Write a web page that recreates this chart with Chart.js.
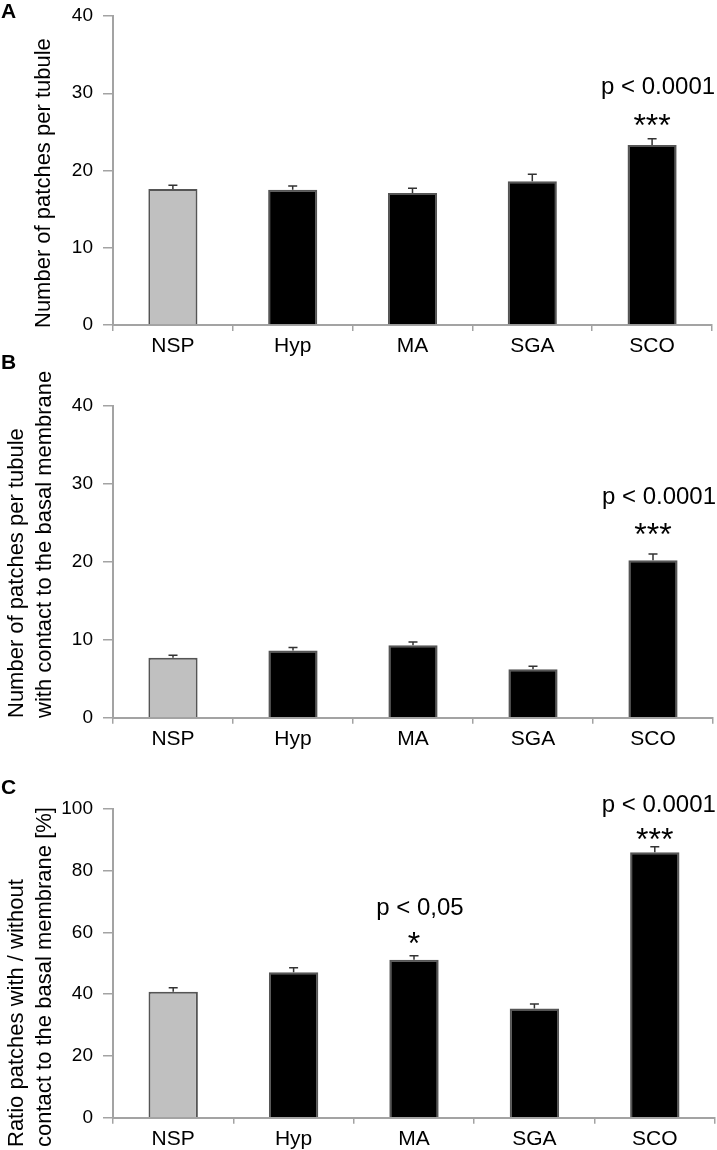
<!DOCTYPE html>
<html lang="en">
  <head>
    <meta charset="UTF-8" />
    <title>Patches per tubule</title>
    <style>
      html, body { margin: 0; padding: 0; background: #fff; }
      .wrap { position: relative; width: 717px; height: 1150px; }
      .wrap canvas { position: absolute; left: 0; }
    </style>
  </head>
  <body>
    <div class="wrap">
      <canvas id="chartA" width="717" height="372" style="top:0px"></canvas>
      <canvas id="chartB" width="717" height="405" style="top:350px"></canvas>
      <canvas id="chartC" width="717" height="395" style="top:755px"></canvas>
    </div>
    <script src="https://cdn.jsdelivr.net/npm/chart.js"></script>
    <script>
      const categories = ["NSP", "Hyp", "MA", "SGA", "SCO"];

      // A: number of patches per tubule
      const patchesA = [17.6, 17.5, 17.1, 18.6, 23.3];
      const errA = [0.5, 0.5, 0.6, 0.9, 0.8];
      const pTextA = [null, null, null, null, "p < 0.0001"];
      const starsA = [null, null, null, null, "***"];

      // B: patches with contact to the basal membrane
      const patchesB = [7.7, 8.6, 9.3, 6.2, 20.2];
      const errB = [0.3, 0.4, 0.4, 0.4, 0.8];
      const pTextB = [null, null, null, null, "p < 0.0001"];
      const starsB = [null, null, null, null, "***"];

      // C: ratio with / without contact [%]
      const ratioC = [40.8, 47.1, 51.2, 35.4, 86.0];
      const errC = [1.3, 1.5, 1.3, 1.4, 1.8];
      const pTextC = [null, null, "p < 0,05", null, "p < 0.0001"];
      const starsC = [null, null, "*", null, "***"];

      const yTicksAB = [0, 10, 20, 30, 40];
      const yTicksC = [0, 20, 40, 60, 80, 100];

      const barColors = ["#c0c0c0", "#000", "#000", "#000", "#000"];
      const FONT = "'Liberation Sans', Arial, sans-serif";
      const AXIS = "#a3a3a3";

      const extrasPlugin = {
        id: "extras",
        afterDatasetsDraw(chart) {
          const o = chart.options.plugins.extras;
          const c = chart.ctx;
          const y = chart.scales.y;
          const meta = chart.getDatasetMeta(0);
          c.save();

          // error bars (upper only)
          c.strokeStyle = "#333";
          c.lineWidth = 1.5;
          meta.data.forEach((bar, i) => {
            const top = y.getPixelForValue(o.values[i] + o.errors[i]);
            c.beginPath();
            c.moveTo(bar.x, bar.y);
            c.lineTo(bar.x, top);
            c.moveTo(bar.x - 4.5, top);
            c.lineTo(bar.x + 4.5, top);
            c.stroke();
          });

          // significance labels
          c.fillStyle = "#000";
          c.textAlign = "center";
          c.textBaseline = "alphabetic";
          meta.data.forEach((bar, i) => {
            if (!o.pText[i]) return;
            const top = y.getPixelForValue(o.values[i] + o.errors[i]);
            const gap = o.gaps[i];
            c.font = "24px " + FONT;
            c.fillText(o.pText[i], bar.x + gap.dx, top - gap.p);
            c.font = "32px " + FONT;
            c.fillText(o.stars[i], bar.x, top - gap.s);
          });

          // panel letter
          c.font = "bold 21px " + FONT;
          c.textAlign = "left";
          c.fillText(o.letter, 1, o.letterY);

          // y axis title, lines start at the bottom
          c.font = "22px " + FONT;
          c.textBaseline = "middle";
          o.title.forEach(line => {
            c.save();
            c.translate(line.x, o.titleBottom);
            c.rotate(-Math.PI / 2);
            c.fillText(line.text, 0, 0);
            c.restore();
          });
          c.restore();
        }
      };

      function createPanel(id, values, errors, yTicks, pText, stars, cfg) {
        return new Chart(document.getElementById(id), {
          type: "bar",
          data: {
            labels: categories,
            datasets: [
              {
                data: values,
                backgroundColor: barColors,
                borderColor: "#555",
                borderWidth: 2,
                borderSkipped: "bottom",
                barPercentage: 0.41,
                categoryPercentage: 1
              }
            ]
          },
          options: {
            responsive: false,
            animation: false,
            layout: {
              padding: { left: 0, right: cfg.right, top: cfg.top, bottom: 0 }
            },
            plugins: {
              legend: { display: false },
              tooltip: { enabled: false },
              extras: {
                values: values,
                errors: errors,
                pText: pText,
                stars: stars,
                gaps: cfg.gaps,
                letter: cfg.letter,
                letterY: cfg.letterY,
                title: cfg.title,
                titleBottom: cfg.titleBottom
              }
            },
            scales: {
              x: {
                offset: true,
                grid: {
                  offset: true,
                  drawOnChartArea: false,
                  tickLength: 6,
                  color: AXIS,
                  lineWidth: 1.5
                },
                border: { color: AXIS, width: 2 },
                ticks: {
                  padding: 3,
                  color: "#000",
                  font: { family: FONT, size: 21 }
                },
                afterFit(scale) {
                  scale.height = cfg.xHeight;
                  scale.paddingLeft = 0;
                  scale.paddingRight = 0;
                }
              },
              y: {
                min: 0,
                max: yTicks[yTicks.length - 1],
                afterBuildTicks(scale) {
                  scale.ticks = yTicks.map(v => ({ value: v }));
                },
                grid: {
                  drawOnChartArea: false,
                  tickLength: 10,
                  color: AXIS,
                  lineWidth: 1.5
                },
                border: { color: AXIS, width: 2 },
                ticks: {
                  padding: 10,
                  color: "#000",
                  font: { family: FONT, size: 19 }
                },
                afterFit(scale) {
                  scale.width = 113;
                  scale.paddingTop = 0;
                  scale.paddingBottom = 0;
                }
              }
            }
          },
          plugins: [extrasPlugin]
        });
      }

      const noGap = { p: 0, s: 0, dx: 0 };

      createPanel("chartA", patchesA, errA, yTicksAB, pTextA, starsA, {
        top: 16, right: 5, xHeight: 47,
        letter: "A", letterY: 18,
        titleBottom: 328,
        title: [{ text: "Number of patches per tubule", x: 44 }],
        gaps: [noGap, noGap, noGap, noGap, { p: 45, s: 3, dx: 6 }]
      });

      createPanel("chartB", patchesB, errB, yTicksAB, pTextB, starsB, {
        top: 55.7, right: 4, xHeight: 37.3,
        letter: "B", letterY: 19,
        titleBottom: 368,
        title: [
          { text: "Number of patches per tubule", x: 17 },
          { text: "with contact to the basal membrane", x: 45 }
        ],
        gaps: [noGap, noGap, noGap, noGap, { p: 50, s: 9, dx: 6 }]
      });

      createPanel("chartC", ratioC, errC, yTicksC, pTextC, starsC, {
        top: 54, right: 2, xHeight: 32.3,
        letter: "C", letterY: 39,
        titleBottom: 392,
        title: [
          { text: "Ratio patches with / without", x: 17 },
          { text: "contact to the basal membrane [%]", x: 45 }
        ],
        gaps: [noGap, noGap, { p: 41, s: 2, dx: 6 }, noGap, { p: 35, s: -3, dx: 4 }]
      });
    </script>
  </body>
</html>
